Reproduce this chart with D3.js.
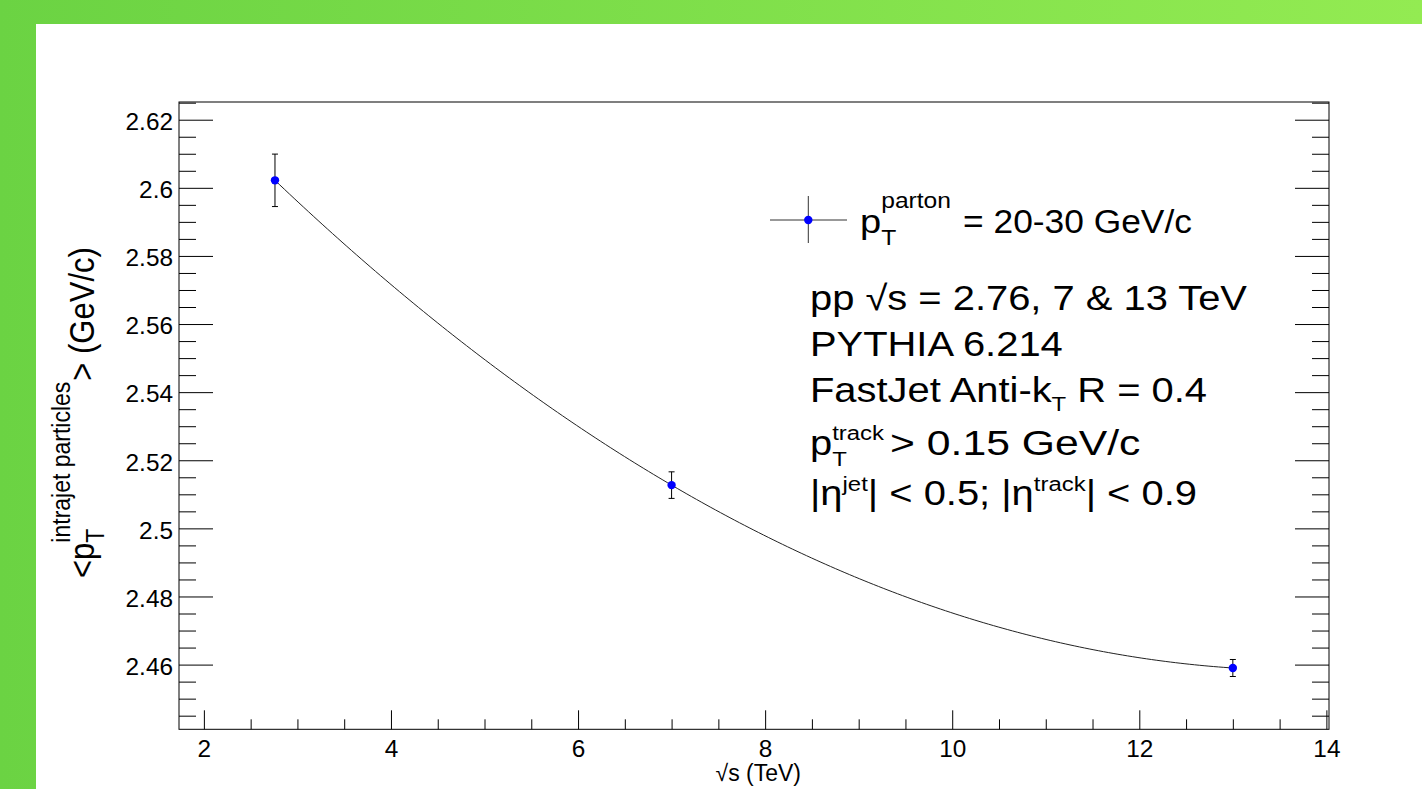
<!DOCTYPE html>
<html>
<head>
<meta charset="utf-8">
<script src="https://cdn.jsdelivr.net/npm/d3@7"></script>
<style>
  html, body { margin: 0; padding: 0; overflow: hidden; background: #fff; }
  text { font-family: "Liberation Sans", Arial, Helvetica, sans-serif; fill: #000; }
</style>
</head>
<body>
<svg id="chart" width="1422" height="789"></svg>
<script>
// Mean transverse momentum of intrajet particles vs collision energy
const energies   = [2.76, 7, 13];            // sqrt(s) in TeV
const meanPt     = [2.6022, 2.5127, 2.459];  // <pT> in GeV/c
const meanPtErr  = [0.0077, 0.0039, 0.0025]; // statistical uncertainty

const xTickValues = [2, 4, 6, 8, 10, 12, 14];
const yTickValues = [2.46, 2.48, 2.5, 2.52, 2.54, 2.56, 2.58, 2.6, 2.62];
const xDomain = [1.734, 14.028];
const yDomain = [2.4410, 2.6252];

const legendRest = "= 20-30 GeV/c";
const infoLine1 = "pp \u221As = 2.76, 7 & 13 TeV";
const infoLine2 = "PYTHIA 6.214";

const W = 1422, H = 789;
const frame = { left: 179, top: 102, right: 1329, bottom: 729.3 };
const SX = 1.12;   // horizontal glyph stretch of the canvas text
const SXT = 1.06;  // same for the tick labels

const svg = d3.select("#chart");

// ---- page background: green border with white panel ----
const defs = svg.append("defs");
const grad = defs.append("linearGradient").attr("id", "bg").attr("x1", 0).attr("x2", 1).attr("y1", 0).attr("y2", 0);
grad.append("stop").attr("offset", "0%").attr("stop-color", "#6bd343");
grad.append("stop").attr("offset", "100%").attr("stop-color", "#93eb52");
svg.append("rect").attr("width", W).attr("height", H).attr("fill", "url(#bg)");
svg.append("rect").attr("x", 36).attr("y", 24).attr("width", W - 36).attr("height", H - 24).attr("fill", "#fff");

// ---- scales ----
const x = d3.scaleLinear().domain(xDomain).range([frame.left, frame.right]);
const y = d3.scaleLinear().domain(yDomain).range([frame.bottom, frame.top]);

const xMinor = d3.range(2, 14.001, 0.5).filter(v => !xTickValues.some(t => Math.abs(t - v) < 1e-9));
const yMinor = d3.range(2.445, 2.6251, 0.005).filter(v => !yTickValues.some(t => Math.abs(t - v) < 1e-9));

function styleAxis(g) {
  g.select(".domain").remove();
  g.selectAll(".tick line").attr("stroke", "#000").attr("stroke-width", 1);
}

// x axis (ticks pointing into the frame)
const gx = svg.append("g").attr("transform", `translate(0,${frame.bottom})`);
gx.call(d3.axisBottom(x).tickValues(xTickValues).tickSize(-19).tickFormat(d3.format("d")));
gx.append("g").call(d3.axisBottom(x).tickValues(xMinor).tickSize(-10).tickFormat(""));
gx.call(styleAxis);
gx.selectAll("g g").call(styleAxis);
gx.selectAll(".tick text")
  .attr("x", null).attr("y", null).attr("dy", null)
  .attr("font-size", 23).attr("text-anchor", "middle")
  .attr("transform", `translate(0,28) scale(${SXT},1)`);

// y axis on the left
const gy = svg.append("g").attr("transform", `translate(${frame.left},0)`);
gy.call(d3.axisLeft(y).tickValues(yTickValues).tickSize(-34).tickFormat(d => d3.format("")(+d.toFixed(2))));
gy.append("g").call(d3.axisLeft(y).tickValues(yMinor).tickSize(-17).tickFormat(""));
gy.call(styleAxis);
gy.selectAll("g g").call(styleAxis);
gy.selectAll(".tick text")
  .attr("x", null).attr("y", null).attr("dy", null)
  .attr("font-size", 23).attr("text-anchor", "end")
  .attr("transform", `translate(-6,9.8) scale(${SXT},1)`);

// y axis ticks on the right
const gyr = svg.append("g").attr("transform", `translate(${frame.right},0)`);
gyr.call(d3.axisRight(y).tickValues(yTickValues).tickSize(-34).tickFormat(""));
gyr.append("g").call(d3.axisRight(y).tickValues(yMinor).tickSize(-17).tickFormat(""));
gyr.call(styleAxis);
gyr.selectAll("g g").call(styleAxis);

// frame
svg.append("rect")
  .attr("x", frame.left).attr("y", frame.top)
  .attr("width", frame.right - frame.left).attr("height", frame.bottom - frame.top)
  .attr("fill", "none").attr("stroke", "#000").attr("stroke-width", 1);

// ---- second-order polynomial fit through the points (least squares) ----
function polyFit(xs, ys, deg) {
  const n = deg + 1;
  const A = Array.from({ length: n }, () => new Array(n + 1).fill(0));
  xs.forEach((xi, k) => {
    for (let i = 0; i < n; i++) {
      for (let j = 0; j < n; j++) A[i][j] += Math.pow(xi, i + j);
      A[i][n] += ys[k] * Math.pow(xi, i);
    }
  });
  for (let c = 0; c < n; c++) {
    let p = c;
    for (let r = c + 1; r < n; r++) if (Math.abs(A[r][c]) > Math.abs(A[p][c])) p = r;
    [A[c], A[p]] = [A[p], A[c]];
    for (let r = 0; r < n; r++) {
      if (r === c) continue;
      const f = A[r][c] / A[c][c];
      for (let k = c; k <= n; k++) A[r][k] -= f * A[c][k];
    }
  }
  return A.map((row, i) => row[n] / row[i]);
}
const coef = polyFit(energies, meanPt, 2);
const fitFn = v => coef.reduce((s, c, i) => s + c * Math.pow(v, i), 0);
const fitXs = d3.range(0, 201).map(i => energies[0] + (energies[energies.length - 1] - energies[0]) * i / 200);

svg.append("path")
  .datum(fitXs)
  .attr("fill", "none").attr("stroke", "#222").attr("stroke-width", 1)
  .attr("d", d3.line().x(d => x(d)).y(d => y(fitFn(d))));

// ---- data points with error bars ----
const pts = energies.map((e, i) => ({ e, v: meanPt[i], err: meanPtErr[i] }));
const gp = svg.append("g");
gp.selectAll("line.err").data(pts).join("line")
  .attr("x1", d => x(d.e)).attr("x2", d => x(d.e))
  .attr("y1", d => y(d.v + d.err)).attr("y2", d => y(d.v - d.err))
  .attr("stroke", "#000").attr("stroke-width", 1);
[1, -1].forEach(s => {
  gp.selectAll(null).data(pts).join("line")
    .attr("x1", d => x(d.e) - 3).attr("x2", d => x(d.e) + 3)
    .attr("y1", d => y(d.v + s * d.err)).attr("y2", d => y(d.v + s * d.err))
    .attr("stroke", "#000").attr("stroke-width", 1);
});
gp.selectAll("circle").data(pts).join("circle")
  .attr("cx", d => x(d.e)).attr("cy", d => y(d.v)).attr("r", 4.2)
  .attr("fill", "#0000ff");

// ---- text helpers ----
function piece(parent, px, py, str, size, sx = SX) {
  const t = parent.append("text")
    .attr("font-size", size)
    .attr("transform", `translate(${px},${py}) scale(${sx},1)`)
    .text(str);
  return t;
}
function width(t, sx = SX) { return t.node().getComputedTextLength() * sx; }

// ---- legend ----
const lg = svg.append("g");
lg.append("line").attr("x1", 770).attr("x2", 847).attr("y1", 220).attr("y2", 220).attr("stroke", "#333");
lg.append("line").attr("x1", 808.3).attr("x2", 808.3).attr("y1", 196).attr("y2", 243).attr("stroke", "#333");
lg.append("circle").attr("cx", 808.3).attr("cy", 220).attr("r", 4.2).attr("fill", "#0000ff");
{
  const p = piece(lg, 860, 233, "p", 34);
  const px = 860 + width(p);
  const sub = piece(lg, px, 245, "T", 22);
  const sup = piece(lg, px, 208, "parton", 22);
  const rx = px + Math.max(width(sub), width(sup)) + 12;
  piece(lg, rx, 233, legendRest, 34, 1.04);
}

// ---- info block ----
const ib = svg.append("g");
const infoX = 810, infoSize = 35, subSize = 21, SXI = 1.14;
piece(ib, infoX, 310, infoLine1, infoSize, SXI);
piece(ib, infoX, 356, infoLine2, infoSize, SXI);
{
  const t = ib.append("text").attr("font-size", infoSize)
    .attr("transform", `translate(${infoX},402) scale(${SXI},1)`);
  t.append("tspan").text("FastJet Anti-k");
  t.append("tspan").attr("font-size", subSize).attr("dy", 9).text("T");
  t.append("tspan").attr("dy", -9).text(" R = 0.4");
}
{
  const p = piece(ib, infoX, 455, "p", infoSize, SXI);
  const px = infoX + width(p, SXI);
  const sub = piece(ib, px, 466, "T", subSize, SXI);
  const sup = piece(ib, px, 440, "track", subSize, SXI);
  const rx = px + Math.max(width(sub, SXI), width(sup, SXI)) + 6;
  piece(ib, rx, 455, "> 0.15 GeV/c", infoSize, 1.22);
}
{
  const t = ib.append("text").attr("font-size", infoSize)
    .attr("transform", `translate(${infoX},505) scale(${SXI},1)`);
  t.append("tspan").text("|\u03B7");
  t.append("tspan").attr("font-size", subSize).attr("dy", -14).text("jet");
  t.append("tspan").attr("dy", 14).text("| < 0.5; |\u03B7");
  t.append("tspan").attr("font-size", subSize).attr("dy", -14).text("track");
  t.append("tspan").attr("dy", 14).text("| < 0.9");
}

// ---- axis titles ----
svg.append("text").attr("font-size", 23)
  .attr("text-anchor", "end")
  .attr("transform", `translate(801,781)`)
  .text("\u221As (TeV)");
{
  const gt = svg.append("g").attr("transform", `translate(94,578) rotate(-90)`);
  const yt = (px, py, str, size) => gt.append("text")
    .attr("font-size", size)
    .attr("transform", `translate(${px},${py}) scale(1,1.12)`)
    .text(str);
  const lt = (t) => t.node().getComputedTextLength();
  const a = yt(0, 0, "<p", 31);
  const ax = lt(a);
  const sub = yt(ax, 10, "T", 23);
  const sup = yt(ax, -24, "intrajet particles", 23);
  const bx = ax + Math.max(lt(sub), lt(sup)) + 1;
  yt(bx, 0, "> (GeV/c)", 31);
}
</script>
</body>
</html>
